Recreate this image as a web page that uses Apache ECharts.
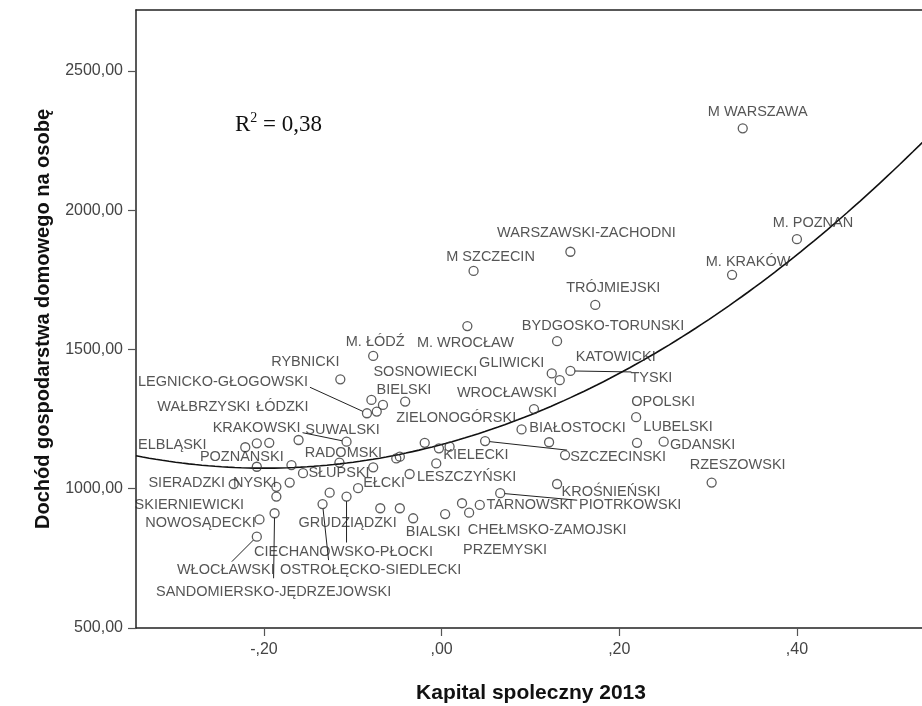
<!DOCTYPE html>
<html><head><meta charset="utf-8">
<script src="https://cdn.jsdelivr.net/npm/echarts@6/dist/echarts.min.js"></script>
<style>html,body{margin:0;padding:0;background:#fff}#c{width:922px;height:706px}</style>
</head><body><div id="c"></div>
<script>
// ---- data ----
const names = ['M WARSZAWA','M. POZNAN','M. KRAKÓW','WARSZAWSKI-ZACHODNI','M SZCZECIN','TRÓJMIEJSKI','BYDGOSKO-TORUNSKI','M. WROCŁAW','M. ŁÓDŹ','RYBNICKI',
 'GLIWICKI','KATOWICKI','TYSKI','SOSNOWIECKI','LEGNICKO-GŁOGOWSKI','','BIELSKI','ZIELONOGÓRSKI','WROCŁAWSKI','OPOLSKI',
 'BIAŁOSTOCKI','LUBELSKI','GDANSKI','SZCZECINSKI','','','RZESZOWSKI','KROŚNIEŃSKI','PIOTRKOWSKI','TARNOWSKI',
 'CHEŁMSKO-ZAMOJSKI','PRZEMYSKI','','BIALSKI','','','LESZCZYŃSKI','KIELECKI','','',
 '','','','','EŁCKI','CIECHANOWSKO-PŁOCKI','GRUDZIĄDZKI','OSTROŁĘCKO-SIEDLECKI','RADOMSKI','SUWALSKI',
 'KRAKOWSKI','SŁUPSKI','','NYSKI','','SKIERNIEWICKI','SANDOMIERSKO-JĘDRZEJOWSKI','NOWOSĄDECKI','WŁOCŁAWSKI','POZNANSKI',
 'ELBLĄSKI','WAŁBRZYSKI','ŁÓDZKI','SIERADZKI'];
const capital = [0.339,0.400,0.327,0.145,0.036,0.173,0.130,0.029,-0.077,-0.114,
 0.124,0.133,0.145,-0.079,-0.084,-0.073,-0.066,-0.041,0.104,0.219,
 0.090,0.220,0.250,0.049,0.121,0.139,0.304,0.130,0.066,0.043,
 0.031,0.023,0.004,-0.032,-0.047,-0.069,-0.036,-0.003,-0.019,0.009,
 -0.006,-0.051,-0.047,-0.077,-0.094,-0.107,-0.126,-0.134,-0.115,-0.161,
 -0.107,-0.156,-0.169,-0.171,-0.186,-0.186,-0.188,-0.205,-0.208,-0.208,
 -0.221,-0.208,-0.194,-0.234];
const income = [2294,1896,1768,1851,1782,1660,1530,1584,1477,1393,
 1414,1390,1423,1319,1271,1277,1301,1313,1286,1257,
 1213,1165,1169,1171,1167,1121,1022,1017,984,942,
 914,948,909,894,930,930,1053,1145,1165,1151,
 1091,1109,1115,1077,1002,972,986,945,1094,1175,
 1169,1056,1085,1022,1007,972,912,890,828,1079,
 1149,1163,1165,1017];
const xTicks = [-0.2, 0, 0.2, 0.4];
const yTicks = [500, 1000, 1500, 2000, 2500];
const fitCoefficients = [1158.8, 850.6, 2131.8]; // quadratic fit: a + b x + c x^2
const rSquaredText = '0,38';
const xTitle = 'Kapital spoleczny 2013';
const yTitle = 'Dochód gospodarstwa domowego na osobę';

// ---- label placement (style only): label offset [dx, dy] and optional leader end offset [ex, ey] ----
const labelPlacement = {
 'M WARSZAWA':[15,-16],'M. POZNAN':[16,-16],'M. KRAKÓW':[16,-13],'WARSZAWSKI-ZACHODNI':[16,-19],
 'M SZCZECIN':[17,-14],'TRÓJMIEJSKI':[18,-17],'BYDGOSKO-TORUNSKI':[46,-15],'M. WROCŁAW':[-2,17],
 'M. ŁÓDŹ':[2,-14],'RYBNICKI':[-35,-17],'GLIWICKI':[-40,-10],'KATOWICKI':[56,-23],'TYSKI':[81,7,61,1],
 'SOSNOWIECKI':[54,-28],'LEGNICKO-GŁOGOWSKI':[-144,-31,-57,-26],'BIELSKI':[21,-15],'ZIELONOGÓRSKI':[51,16],
 'WROCŁAWSKI':[-27,-16],'OPOLSKI':[27,-15],'BIAŁOSTOCKI':[56,-1],'LUBELSKI':[41,-16],'GDANSKI':[39,3],
 'SZCZECINSKI':[133,16,82,9],'RZESZOWSKI':[26,-18],'KROŚNIEŃSKI':[54,8],'PIOTRKOWSKI':[130,12,77,7],
 'TARNOWSKI':[50,0],'CHEŁMSKO-ZAMOJSKI':[78,17],'PRZEMYSKI':[43,47],'BIALSKI':[20,14],'LESZCZYŃSKI':[57,3],
 'KIELECKI':[37,7],'EŁCKI':[26,-5],'CIECHANOWSKO-PŁOCKI':[-3,55,0,46],'GRUDZIĄDZKI':[18,30],
 'OSTROŁĘCKO-SIEDLECKI':[48,66,6,56],'RADOMSKI':[4,-10],'SUWALSKI':[44,-10],'KRAKOWSKI':[-90,-14,-44,-9],
 'SŁUPSKI':[36,0],'NYSKI':[-35,0],'SKIERNIEWICKI':[-87,8],'SANDOMIERSKO-JĘDRZEJOWSKI':[-1,79,-1,65],
 'NOWOSĄDECKI':[-59,4],'WŁOCŁAWSKI':[-31,33,-25,25],'POZNANSKI':[-15,-10],'ELBLĄSKI':[-73,-2],
 'WAŁBRZYSKI':[-53,-36],'ŁÓDZKI':[13,-36],'SIERADZKI':[-47,-1]
};

const xMin = -0.344, xMax = 0.5453, yMin = 500, yMax = 2719;

const points = names.map((n, i) => {
  const p = labelPlacement[n];
  return {
    name: n,
    value: [capital[i], income[i]],
    label: p ? {show: true, offset: [p[0], p[1]]} : {show: false}
  };
});

const leaders = [];
names.forEach((n, i) => {
  const p = labelPlacement[n];
  if (p && p.length === 4) leaders.push([capital[i], income[i], p[2], p[3]]);
});

const curve = [];
const steps = 120;
for (let k = 0; k <= steps; k++) {
  const x = xMin + (xMax - xMin) * k / steps;
  curve.push([x, fitCoefficients[0] + fitCoefficients[1] * x + fitCoefficients[2] * x * x]);
}

const fmtX = v => (v < -1e-9 ? '-' : '') + Math.abs(v).toFixed(2).replace(/^0/, '').replace('.', ',');
const fmtY = v => v.toFixed(2).replace('.', ',');
const lineCol = '#222';
const font = "'Liberation Sans', Arial, sans-serif";

const chart = echarts.init(document.getElementById('c'), null, {renderer: 'canvas'});
chart.setOption({
  animation: false,
  backgroundColor: '#fff',
  grid: {left: 136, top: 10, right: -4, bottom: 78, show: false, containLabel: false, outerBoundsMode: 'none'},
  xAxis: [{
    type: 'value', min: xMin, max: xMax, position: 'bottom',
    axisLine: {show: true, onZero: false, lineStyle: {color: lineCol, width: 1.5}},
    axisTick: {show: true, length: 8, customValues: xTicks, lineStyle: {color: '#555', width: 1.2}},
    axisLabel: {customValues: xTicks, formatter: fmtX, margin: 14, fontSize: 16, color: '#444', fontFamily: font},
    splitLine: {show: false},
    name: xTitle, nameLocation: 'middle', nameGap: 55,
    nameTextStyle: {fontSize: 21, fontWeight: 'bold', color: '#111', fontFamily: font}
  }, {
    type: 'value', min: xMin, max: xMax, position: 'top',
    axisLine: {show: true, onZero: false, lineStyle: {color: lineCol, width: 1.5}},
    axisTick: {show: false}, axisLabel: {show: false}, splitLine: {show: false}
  }],
  yAxis: {
    type: 'value', min: yMin, max: yMax,
    axisLine: {show: true, onZero: false, lineStyle: {color: lineCol, width: 1.5}},
    axisTick: {show: true, length: 8, customValues: yTicks, lineStyle: {color: '#555', width: 1.2}},
    axisLabel: {customValues: yTicks, formatter: fmtY, margin: 13, fontSize: 16, color: '#444', fontFamily: font},
    splitLine: {show: false},
    name: yTitle, nameLocation: 'middle', nameGap: 83,
    nameTextStyle: {fontSize: 20, fontWeight: 'bold', color: '#111', fontFamily: font}
  },
  graphic: [{
    type: 'text', x: 235, y: 125,
    style: {
      text: '{a|R}{b|2}{a| = ' + rSquaredText + '}',
      verticalAlign: 'middle',
      rich: {
        a: {fontFamily: "'Liberation Serif', 'Times New Roman', serif", fontSize: 23, fill: '#111', lineHeight: 28},
        b: {fontFamily: "'Liberation Serif', 'Times New Roman', serif", fontSize: 14, fill: '#111', verticalAlign: 'top', lineHeight: 22}
      }
    }
  }],
  series: [{
    type: 'line', data: curve, showSymbol: false, symbol: 'none', smooth: false,
    lineStyle: {color: '#111', width: 1.6}, z: 2, silent: true
  }, {
    type: 'custom', data: leaders, encode: {x: 0, y: 1}, z: 2, silent: true,
    renderItem: (params, api) => {
      const c = api.coord([api.value(0), api.value(1)]);
      const ex = api.value(2), ey = api.value(3);
      const len = Math.sqrt(ex * ex + ey * ey) || 1;
      const r = 4.5;
      return {
        type: 'line',
        shape: {x1: c[0] + ex / len * r, y1: c[1] + ey / len * r, x2: c[0] + ex, y2: c[1] + ey},
        style: {stroke: '#222', lineWidth: 1}
      };
    }
  }, {
    type: 'scatter', data: points, symbol: 'circle', symbolSize: 9, z: 3,
    itemStyle: {color: 'rgba(0,0,0,0)', borderColor: '#333', borderWidth: 1.3},
    label: {show: true, position: 'inside', formatter: '{b}', fontSize: 14.5, color: '#2a2a2a', fontFamily: font},
    emphasis: {disabled: true}
  }]
});
</script></body></html>
